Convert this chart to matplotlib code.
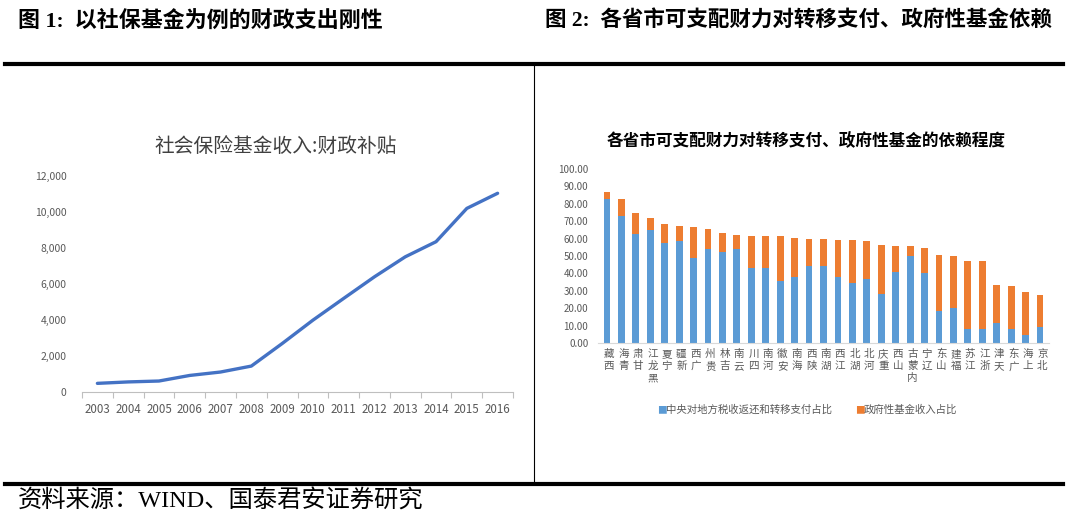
import matplotlib
matplotlib.use("Agg")
import matplotlib.pyplot as plt
from matplotlib.lines import Line2D
from matplotlib.ticker import FuncFormatter, FixedLocator

plt.rcParams['font.family'] = ['Noto Sans CJK SC', 'DejaVu Sans']

# ---------------- data ----------------
years = ["2003", "2004", "2005", "2006", "2007", "2008", "2009",
         "2010", "2011", "2012", "2013", "2014", "2015", "2016"]
subsidy = [480, 560, 610, 920, 1110, 1440, 2690, 3990, 5200,
           6400, 7510, 8350, 10200, 11040]

provinces = ["西藏", "青海", "甘肃", "黑龙江", "宁夏", "新疆", "广西", "贵州",
             "吉林", "云南", "四川", "河南", "安徽", "海南", "陕西", "湖南",
             "江西", "湖北", "河北", "重庆", "山西", "内蒙古", "辽宁", "山东",
             "福建", "江苏", "浙江", "天津", "广东", "上海", "北京"]
transfer_share = [83.0, 73.0, 62.5, 64.7, 57.5, 58.4, 49.0, 54.0,
                  52.3, 54.0, 43.2, 43.2, 35.5, 38.0, 44.3, 44.1,
                  38.0, 34.6, 36.5, 28.3, 40.6, 50.2, 40.3, 18.3,
                  19.9, 7.8, 7.8, 11.3, 7.8, 4.4, 9.2]
fund_share = [4.0, 10.0, 12.0, 7.3, 10.8, 8.8, 17.4, 11.8,
              11.1, 8.2, 18.4, 18.4, 26.1, 22.5, 15.6, 15.7,
              21.0, 24.4, 21.9, 28.2, 14.9, 5.3, 14.5, 32.3,
              29.9, 39.1, 39.1, 22.3, 25.2, 25.0, 18.3]

left_title = "社会保险基金收入:财政补贴"
right_title = "各省市可支配财力对转移支付、政府性基金的依赖程度"
legend_labels = ["中央对地方税收返还和转移支付占比", "政府性基金收入占比"]
header_left = "图 1:  以社保基金为例的财政支出刚性"
header_right = "图 2:  各省市可支配财力对转移支付、政府性基金依赖"
footer = "资料来源：WIND、国泰君安证券研究"

# ---------------- layout helpers ----------------
W, H = 1068, 522
fig = plt.figure(figsize=(W / 100, H / 100), dpi=100)
fig.patch.set_facecolor("white")


def fx(x):
    return x / W


def fy(y):
    return 1 - y / H


serif_cjk = ['Liberation Serif', 'Noto Sans CJK SC']
gray = "#595959"
blue = "#5B9BD5"
orange = "#ED7D31"

# headers
fig.text(fx(18), fy(21), header_left, family=serif_cjk, fontweight='bold',
         fontsize=15.8, va='center', ha='left')
fig.text(fx(545), fy(21), header_right, family=serif_cjk, fontweight='bold',
         fontsize=15.5, va='center', ha='left')

# rules
fig.add_artist(Line2D([fx(5), fx(1063)], [fy(64), fy(64)], lw=3, color='black'))
fig.add_artist(Line2D([fx(5), fx(1063)], [fy(484), fy(484)], lw=3, color='black'))
fig.add_artist(Line2D([fx(534), fx(534)], [fy(66), fy(482)], lw=0.8, color='black'))

fig.text(fx(18), fy(501), footer, family=serif_cjk, fontsize=17.5,
         va='center', ha='left')

# ---------------- left chart ----------------
ax1 = fig.add_axes([fx(82), fy(392), fx(513) - fx(82), (392 - 176) / H])
x1 = list(range(len(years)))
ax1.plot(x1, subsidy, color='#4472C4', lw=2.4, solid_joinstyle='round',
         solid_capstyle='round')
ax1.set_xlim(-0.5, len(years) - 0.5)
ax1.set_ylim(0, 12000)
for s in ['top', 'right', 'left']:
    ax1.spines[s].set_visible(False)
ax1.spines['bottom'].set_color('#bfbfbf')
ax1.spines['bottom'].set_linewidth(0.8)
ax1.set_yticks(range(0, 12001, 2000))
ax1.yaxis.set_major_formatter(FuncFormatter(lambda v, p: f"{int(v):,}"))
ax1.set_xticks(x1)
ax1.set_xticklabels(years)
ax1.xaxis.set_minor_locator(FixedLocator([i - 0.5 for i in range(len(years) + 1)]))
ax1.tick_params(axis='y', length=0, pad=11, labelsize=7.5, labelcolor=gray)
ax1.tick_params(axis='x', which='major', length=0, pad=8, labelsize=8.3,
                labelcolor=gray)
ax1.tick_params(axis='x', which='minor', length=4, color='#bfbfbf', width=0.8)
fig.text(fx(276), fy(146), left_title, fontsize=14.2, color='#404040',
         ha='center', va='center')

# ---------------- right chart ----------------
ax2 = fig.add_axes([fx(598), fy(343), (1049 - 598) / W, (343 - 169) / H])
x2 = list(range(len(provinces)))
ax2.bar(x2, transfer_share, width=0.47, color=blue, label=legend_labels[0])
ax2.bar(x2, fund_share, width=0.47, bottom=transfer_share, color=orange,
        label=legend_labels[1])
ax2.set_xlim(-0.62, len(provinces) - 0.38)
ax2.set_ylim(0, 100)
for s in ['top', 'right', 'left']:
    ax2.spines[s].set_visible(False)
ax2.spines['bottom'].set_color('#d9d9d9')
ax2.spines['bottom'].set_linewidth(0.8)
ax2.set_yticks(range(0, 101, 10))
ax2.yaxis.set_major_formatter(FuncFormatter(lambda v, p: f"{v:.2f}"))
ax2.tick_params(axis='y', length=0, pad=7, labelsize=7, labelcolor=gray)
ax2.set_xticks([])
trans = ax2.get_xaxis_transform()
for xi, name in zip(x2, provinces):
    ax2.text(xi + 0.15, -0.035, "\n".join(reversed(name)), transform=trans,
             ha='center', va='top', fontsize=7.6, color=gray, linespacing=1.25)

fig.text(fx(806), fy(142), right_title, family=serif_cjk, fontweight='bold',
         fontsize=12, ha='center', va='center')

# legend
fig.text(fx(657), fy(410), "■", color=blue, fontsize=7, va='center', ha='left')
fig.text(fx(666), fy(410), legend_labels[0], color=gray, fontsize=7.5,
         va='center', ha='left')
fig.text(fx(855), fy(410), "■", color=orange, fontsize=7, va='center', ha='left')
fig.text(fx(864), fy(410), legend_labels[1], color=gray, fontsize=7.5,
         va='center', ha='left')

fig.savefig("out.png", dpi=100, facecolor='white')
